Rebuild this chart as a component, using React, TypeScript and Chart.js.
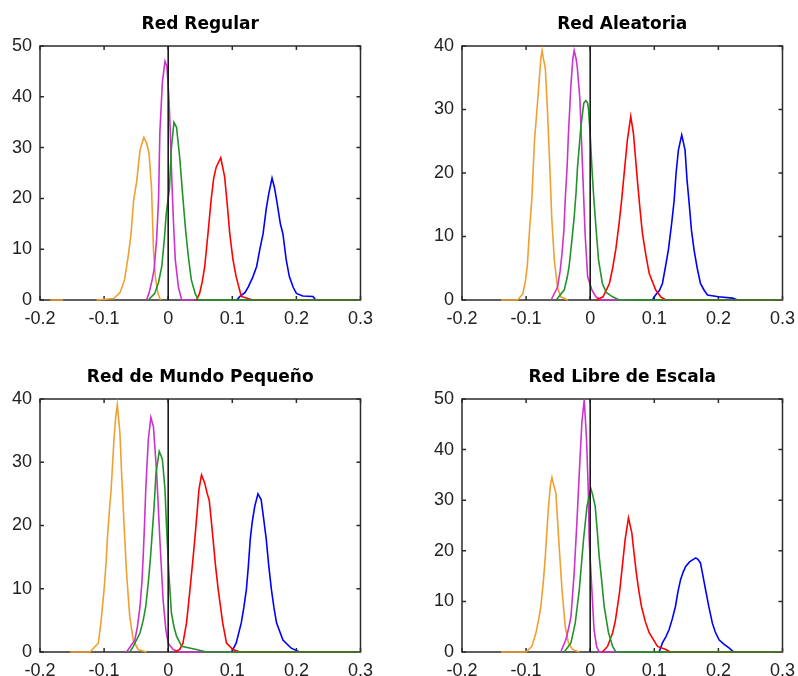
import React, { useEffect, useRef } from 'react';
import { Chart, registerables } from 'chart.js';

Chart.register(...registerables);

// ---- tick labels ----
const xTickValues = [-0.2, -0.1, 0, 0.1, 0.2, 0.3];
const xTickLabels = ['-0.2', '-0.1', '0', '0.1', '0.2', '0.3'];
const yTicks50 = [0, 10, 20, 30, 40, 50];
const yTicks40 = [0, 10, 20, 30, 40];

const titles = ['Red Regular', 'Red Aleatoria', 'Red de Mundo Pequeño', 'Red Libre de Escala'];

// ---- Red Regular ----
const regOrange = [[-0.184, 0], [-0.164, 0], [-0.14, null], [-0.112, 0], [-0.085, 0.3], [-0.075, 1.5], [-0.068, 4], [-0.062, 9], [-0.058, 13], [-0.054, 19.5], [-0.049, 23.5], [-0.044, 29.5], [-0.038, 32], [-0.034, 31], [-0.030, 29], [-0.026, 22], [-0.023, 10], [-0.020, 4.5], [-0.016, 1.3], [-0.012, 0]];
const regMagenta = [[-0.034, 0], [-0.03, 1.3], [-0.025, 4], [-0.022, 6], [-0.018, 12], [-0.015, 20], [-0.013, 33], [-0.009, 43], [-0.005, 47], [-0.002, 46], [0.001, 40], [0.003, 34], [0.005, 26], [0.008, 16], [0.011, 8], [0.016, 2.5], [0.021, 0], [0.04, 0]];
const regGreen = [[-0.031, 0], [-0.021, 1.3], [-0.015, 3.5], [-0.01, 6.6], [-0.006, 12], [-0.003, 17], [0.002, 22], [0.005, 30], [0.009, 35], [0.013, 34], [0.018, 28], [0.023, 20], [0.027, 14], [0.031, 9], [0.036, 4], [0.042, 1.3], [0.047, 0], [0.3, 0]];
const regRed = [[0.044, 0], [0.049, 1.3], [0.053, 3.5], [0.057, 6.6], [0.062, 13], [0.067, 19.7], [0.071, 24], [0.075, 26.2], [0.082, 28], [0.088, 24.3], [0.092, 19], [0.096, 13.1], [0.101, 8], [0.106, 4.6], [0.114, 0.7], [0.132, 0], [0.3, 0]];
const regBlue = [[0.107, 0], [0.112, 0.7], [0.12, 1.5], [0.125, 2.6], [0.132, 4.5], [0.138, 6.6], [0.143, 10], [0.148, 13], [0.153, 18], [0.157, 21], [0.162, 24], [0.166, 22], [0.17, 19], [0.175, 15], [0.179, 13], [0.184, 8], [0.189, 4.6], [0.195, 2.5], [0.2, 1.3], [0.21, 0.8], [0.226, 0.7], [0.23, 0], [0.3, 0]];

// ---- Red Aleatoria ----
const aleOrange = [[-0.139, 0], [-0.113, 0], [-0.105, 1], [-0.101, 3], [-0.098, 5.5], [-0.095, 10.5], [-0.091, 16], [-0.087, 25], [-0.083, 30], [-0.08, 34], [-0.077, 38], [-0.075, 39.3], [-0.073, 38], [-0.07, 36.5], [-0.0665, 29.5], [-0.063, 21], [-0.06, 13], [-0.056, 6.3], [-0.051, 2], [-0.046, 0.5], [-0.035, 0]];
const aleMagenta = [[-0.061, 0], [-0.051, 2], [-0.047, 4.5], [-0.044, 7.3], [-0.041, 11], [-0.039, 15.7], [-0.036, 21], [-0.034, 26], [-0.030, 34], [-0.027, 38], [-0.025, 39.3], [-0.022, 38], [-0.020, 36.5], [-0.016, 31.5], [-0.012, 21], [-0.008, 10.5], [-0.004, 3.7], [0.0026, 1.6], [0.009, 0.5], [0.017, 0], [0.06, 0]];
const aleGreen = [[-0.053, 0], [-0.0405, 1.6], [-0.036, 3.5], [-0.033, 5.2], [-0.029, 9], [-0.025, 13], [-0.022, 17], [-0.0197, 21], [-0.0145, 27.3], [-0.010, 31], [-0.0068, 31.4], [-0.004, 31], [-0.0026, 30], [0, 26], [0.0026, 21], [0.005, 17], [0.0078, 13], [0.013, 6.3], [0.019, 2.6], [0.025, 1.2], [0.035, 0.5], [0.045, 0], [0.3, 0]];
const aleRed = [[0.009, 0], [0.020, 0.5], [0.030, 2.6], [0.035, 5], [0.040, 8], [0.045, 12], [0.049, 15.7], [0.054, 21], [0.058, 25.2], [0.0633, 28.9], [0.0675, 26.2], [0.071, 22], [0.074, 18.4], [0.078, 14], [0.0815, 10.5], [0.087, 7], [0.092, 4.2], [0.102, 1.6], [0.110, 0.5], [0.118, 0], [0.3, 0]];
const aleBlue = [[0.097, 0], [0.102, 0.8], [0.108, 1.5], [0.1127, 2.6], [0.117, 5], [0.122, 7.9], [0.127, 12], [0.131, 15.7], [0.134, 20], [0.1376, 23.6], [0.1428, 26], [0.148, 23.6], [0.151, 19], [0.154, 15.7], [0.158, 11], [0.162, 7.9], [0.167, 5], [0.172, 2.6], [0.178, 1.5], [0.183, 0.8], [0.2, 0.5], [0.222, 0.3], [0.23, 0], [0.3, 0]];

// ---- Red de Mundo Pequeño ----
const munOrange = [[-0.153, 0], [-0.122, 0], [-0.109, 1.4], [-0.105, 4.6], [-0.100, 9.9], [-0.097, 14], [-0.095, 17.8], [-0.092, 22], [-0.089, 25.7], [-0.0846, 33.6], [-0.082, 37], [-0.0794, 39.1], [-0.0775, 37], [-0.0753, 34.6], [-0.0727, 28.3], [-0.069, 20.4], [-0.065, 12.5], [-0.060, 5.6], [-0.0545, 1.9], [-0.047, 0.4], [-0.034, 0]];
const munMagenta = [[-0.065, 0], [-0.052, 1.9], [-0.048, 4], [-0.044, 7.2], [-0.041, 11], [-0.039, 15.1], [-0.037, 20], [-0.035, 25.7], [-0.031, 33.6], [-0.027, 37.1], [-0.023, 35.6], [-0.018, 28.3], [-0.015, 22], [-0.013, 17.8], [-0.008, 8.3], [-0.0036, 3.5], [0, 1.4], [0.0078, 0.4], [0.018, 0], [0.1, 0]];
const munGreen = [[-0.06, 0], [-0.0545, 0.9], [-0.044, 3], [-0.039, 5], [-0.035, 7.2], [-0.031, 11], [-0.0275, 15.1], [-0.022, 23], [-0.019, 28.3], [-0.014, 31.7], [-0.011, 31], [-0.009, 30.4], [-0.005, 25.7], [-0.0026, 19.9], [0.001, 12.5], [0.005, 6.2], [0.009, 4], [0.013, 2.5], [0.021, 0.9], [0.044, 0.4], [0.06, 0], [0.3, 0]];
const munRed = [[0.010, 0], [0.018, 0.4], [0.023, 1.4], [0.0286, 4.6], [0.034, 9.9], [0.038, 14], [0.0415, 17.8], [0.045, 22], [0.048, 25.7], [0.052, 28], [0.057, 26.7], [0.061, 25], [0.064, 24], [0.067, 21], [0.070, 17.8], [0.074, 13.5], [0.078, 9.9], [0.085, 4.6], [0.091, 1.4], [0.101, 0.4], [0.112, 0], [0.3, 0]];
const munBlue = [[0.099, 0], [0.101, 0.4], [0.106, 1.4], [0.114, 4.6], [0.118, 7], [0.122, 9.9], [0.125, 13.5], [0.128, 17.8], [0.131, 20.5], [0.135, 23], [0.140, 25], [0.145, 24.1], [0.149, 21], [0.153, 17.8], [0.157, 13.5], [0.161, 9.9], [0.165, 7], [0.169, 4.6], [0.179, 1.9], [0.192, 0.6], [0.205, 0], [0.3, 0]];

// ---- Red Libre de Escala ----
const libOrange = [[-0.139, 0], [-0.10, 0], [-0.091, 1.1], [-0.0846, 3.8], [-0.081, 6], [-0.077, 9], [-0.073, 14], [-0.070, 18.9], [-0.067, 25], [-0.065, 28.8], [-0.062, 33], [-0.0597, 34.5], [-0.057, 33], [-0.0535, 31.4], [-0.049, 22], [-0.044, 12.3], [-0.039, 5.1], [-0.034, 1.8], [-0.0275, 0.5], [-0.017, 0]];
const libMagenta = [[-0.046, 0], [-0.038, 2.4], [-0.034, 4.5], [-0.030, 7], [-0.025, 15.6], [-0.0208, 25.5], [-0.017, 35.4], [-0.013, 45.3], [-0.0093, 49.9], [-0.0057, 42], [-0.003, 32], [-0.0016, 22.2], [0.0026, 12.3], [0.006, 4.4], [0.01, 1.1], [0.014, 0], [0.056, 0]];
const libGreen = [[-0.0405, 0], [-0.030, 1.8], [-0.0234, 5.7], [-0.017, 12.3], [-0.0104, 22.2], [-0.005, 28.8], [0.001, 32.3], [0.004, 31], [0.0078, 28.8], [0.011, 24], [0.014, 18.9], [0.018, 14], [0.0218, 9], [0.0286, 3.8], [0.035, 1.1], [0.040, 0], [0.3, 0]];
const libRed = [[0.019, 0], [0.027, 1.1], [0.035, 3.8], [0.039, 6], [0.0426, 9], [0.046, 12], [0.049, 15.6], [0.0545, 22.2], [0.0597, 26.5], [0.065, 23.5], [0.068, 20], [0.072, 15.6], [0.076, 12], [0.080, 9], [0.086, 6], [0.092, 3.8], [0.105, 1.1], [0.118, 0.5], [0.125, 0], [0.3, 0]];
const libBlue = [[0.1075, 0], [0.1127, 1.8], [0.118, 3], [0.123, 4.4], [0.128, 6.5], [0.133, 9], [0.137, 12], [0.141, 14.3], [0.145, 15.8], [0.149, 16.9], [0.155, 17.8], [0.1646, 18.6], [0.168, 18.3], [0.172, 17.6], [0.176, 15], [0.180, 12.3], [0.185, 9], [0.1906, 5.7], [0.195, 4], [0.201, 2.4], [0.209, 1.5], [0.2165, 0.8], [0.224, 0], [0.3, 0]];

const ORANGE = '#f0a030';
const MAGENTA = '#cc33cc';
const GREEN = '#22922a';
const RED = '#ff0000';
const BLUE = '#0000ff';

const TICK_FONT = { family: "'Liberation Sans Narrow', 'Liberation Sans', Arial, sans-serif", size: 18 };
const TITLE_FONT = { family: "'DejaVu Sans', sans-serif", size: 17, weight: 'bold' as const, lineHeight: 1 };
const AXIS_COLOR = '#2b2b2b';

const matlabAxes = {
  id: 'matlabAxes',
  beforeDatasetsDraw(chart: any) {
    const { ctx, chartArea: a, scales } = chart;
    ctx.save();
    ctx.strokeStyle = AXIS_COLOR;
    ctx.lineWidth = 1.5;
    ctx.strokeRect(a.left, a.top, a.right - a.left, a.bottom - a.top);
    const L = 4;
    ctx.beginPath();
    scales.x.ticks.forEach((t: any) => {
      const px = scales.x.getPixelForValue(t.value);
      ctx.moveTo(px, a.bottom);
      ctx.lineTo(px, a.bottom - L);
      ctx.moveTo(px, a.top);
      ctx.lineTo(px, a.top + L);
    });
    scales.y.ticks.forEach((t: any) => {
      const py = scales.y.getPixelForValue(t.value);
      ctx.moveTo(a.left, py);
      ctx.lineTo(a.left + L, py);
      ctx.moveTo(a.right, py);
      ctx.lineTo(a.right - L, py);
    });
    ctx.stroke();
    ctx.restore();
  },
  afterDatasetsDraw(chart: any) {
    const { ctx, chartArea: a, scales } = chart;
    const px = scales.x.getPixelForValue(0);
    ctx.save();
    ctx.strokeStyle = '#1a1a1a';
    ctx.lineWidth = 1.6;
    ctx.beginPath();
    ctx.moveTo(px, a.top);
    ctx.lineTo(px, a.bottom);
    ctx.stroke();
    ctx.restore();
  },
};

type PanelProps = {
  left: number;
  top: number;
  width: number;
  height: number;
  axisHeight: number;
  title: string;
  yMax: number;
  yTicks: number[];
  series: { data: (number | null)[][]; color: string }[];
};

function Panel({ left, top, width, height, axisHeight, title, yMax, yTicks, series }: PanelProps) {
  const ref = useRef<HTMLCanvasElement>(null);
  useEffect(() => {
    if (!ref.current) return;
    const chart = new Chart(ref.current, {
      type: 'line',
      data: {
        datasets: series.map((s) => ({
          data: s.data.map((p) => ({ x: p[0] as number, y: p[1] })),
          borderColor: s.color,
          backgroundColor: s.color,
          borderWidth: 1.6,
          pointRadius: 0,
          tension: 0,
          fill: false,
          spanGaps: false,
          clip: 3,
        })),
      },
      options: {
        responsive: false,
        animation: false,
        devicePixelRatio: 1,
        layout: { padding: { left: 0, right: 20, top: 0, bottom: 0 } },
        plugins: {
          legend: { display: false },
          tooltip: { enabled: false },
          title: {
            display: true,
            text: title,
            color: '#000',
            font: TITLE_FONT,
            padding: { top: 16, bottom: 13 },
            fullSize: false,
          },
        },
        scales: {
          x: {
            type: 'linear',
            min: -0.2,
            max: 0.3,
            grid: { display: false, drawTicks: false },
            border: { display: false },
            ticks: {
              padding: 8,
              color: '#222',
              font: TICK_FONT,
              maxRotation: 0,
              autoSkip: false,
              callback: (v: any) => {
                const i = xTickValues.findIndex((t) => Math.abs(t - Number(v)) < 1e-9);
                return i >= 0 ? xTickLabels[i] : '';
              },
            },
            afterBuildTicks: (s: any) => {
              s.ticks = xTickValues.map((v) => ({ value: v }));
            },
            afterFit: (s: any) => {
              s.height = axisHeight;
            },
          },
          y: {
            type: 'linear',
            min: 0,
            max: yMax,
            grid: { display: false, drawTicks: false },
            border: { display: false },
            ticks: {
              padding: 8,
              color: '#222',
              font: TICK_FONT,
              autoSkip: false,
              callback: (v: any) => String(v),
            },
            afterBuildTicks: (s: any) => {
              s.ticks = yTicks.map((v) => ({ value: v }));
            },
            afterFit: (s: any) => {
              s.width = 40;
            },
          },
        },
      },
      plugins: [matlabAxes],
    } as any);
    return () => chart.destroy();
  }, []);
  return (
    <canvas
      ref={ref}
      width={width}
      height={height}
      style={{ position: 'absolute', left, top, width, height }}
    />
  );
}

export default function App() {
  const colW = 381;
  return (
    <div style={{ position: 'fixed', left: 0, top: 0, width: 798, height: 676, background: '#fff', overflow: 'hidden' }}>
      <Panel
        left={0} top={0} width={colW} height={338} axisHeight={38}
        title={titles[0]} yMax={50} yTicks={yTicks50}
        series={[
          { data: regGreen, color: GREEN },
          { data: regRed, color: RED },
          { data: regBlue, color: BLUE },
          { data: regMagenta, color: MAGENTA },
          { data: regOrange, color: ORANGE },
        ]}
      />
      <Panel
        left={422} top={0} width={colW} height={338} axisHeight={38}
        title={titles[1]} yMax={40} yTicks={yTicks40}
        series={[
          { data: aleGreen, color: GREEN },
          { data: aleRed, color: RED },
          { data: aleBlue, color: BLUE },
          { data: aleMagenta, color: MAGENTA },
          { data: aleOrange, color: ORANGE },
        ]}
      />
      <Panel
        left={0} top={353} width={colW} height={323} axisHeight={24}
        title={titles[2]} yMax={40} yTicks={yTicks40}
        series={[
          { data: munGreen, color: GREEN },
          { data: munRed, color: RED },
          { data: munBlue, color: BLUE },
          { data: munMagenta, color: MAGENTA },
          { data: munOrange, color: ORANGE },
        ]}
      />
      <Panel
        left={422} top={353} width={colW} height={323} axisHeight={24}
        title={titles[3]} yMax={50} yTicks={yTicks50}
        series={[
          { data: libGreen, color: GREEN },
          { data: libRed, color: RED },
          { data: libBlue, color: BLUE },
          { data: libMagenta, color: MAGENTA },
          { data: libOrange, color: ORANGE },
        ]}
      />
    </div>
  );
}
